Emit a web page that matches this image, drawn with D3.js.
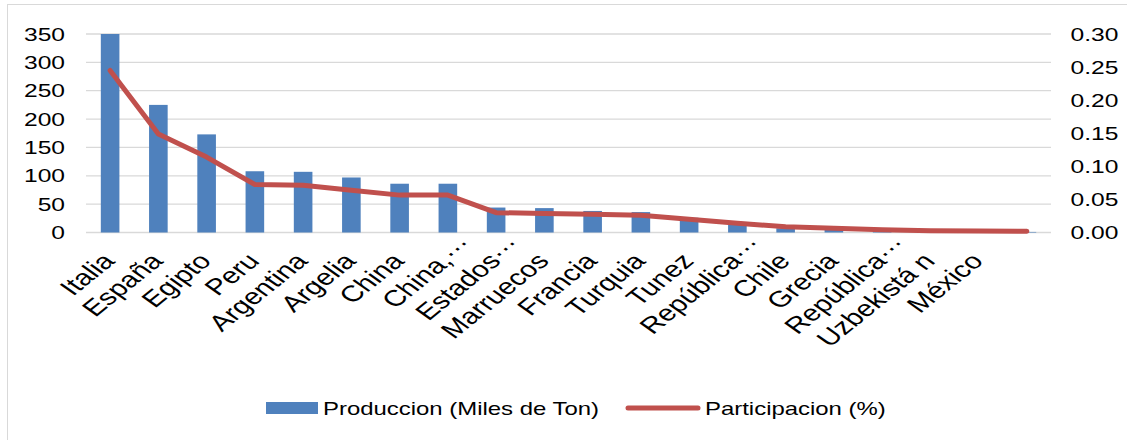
<!DOCTYPE html>
<html>
<head>
<meta charset="utf-8">
<script src="https://cdn.jsdelivr.net/npm/d3@7"></script>
<style>
  body { margin: 0; background: #fff; }
  svg { display: block; font-family: "Liberation Sans", Arial, sans-serif; }
</style>
</head>
<body>
<svg id="chart" width="1127" height="440"></svg>
<script>
// data (last category has no label in the original)
const paises = ["Italia", "España", "Egipto", "Peru", "Argentina", "Argelia", "China", "China,…", "Estados…",
  "Marruecos", "Francia", "Turquia", "Tunez", "República…", "Chile", "Grecia", "República…", "Uzbekistá n", "México", ""];
const produccion = [350, 225, 173, 108, 107, 97, 86, 86, 44, 43, 38, 36, 26, 16, 7.5, 4.5, 3, 2, 1.5, 1];
const participacion = [0.245, 0.149, 0.114, 0.0725, 0.0715, 0.064, 0.0565, 0.0565, 0.030, 0.0288, 0.0275, 0.0262,
  0.0199, 0.0139, 0.0088, 0.0063, 0.0042, 0.0027, 0.0023, 0.0018];
const ticksIzq = [0, 50, 100, 150, 200, 250, 300, 350];
const ticksDer = [0, 0.05, 0.10, 0.15, 0.20, 0.25, 0.30];
const nombreBarras = "Produccion (Miles de Ton)";
const nombreLinea = "Participacion (%)";

const svg = d3.select("#chart");
const sx = 1.33; // the original picture is stretched sideways, text too

// chart border
svg.append("rect")
  .attr("x", 7.5).attr("y", 4.5)
  .attr("width", 1200).attr("height", 500)
  .attr("fill", "none").attr("stroke", "#d9d9d9");

const x = d3.scaleBand()
  .domain(d3.range(paises.length))
  .range([86, 1051])
  .paddingInner(0.6145)
  .paddingOuter(0.307);

const y = d3.scaleLinear().domain([0, 350]).range([232.5, 34]);
const y2 = d3.scaleLinear().domain([0, 0.30]).range([232.5, 34]);

// gridlines
svg.append("g")
  .selectAll("line")
  .data(ticksIzq)
  .join("line")
  .attr("x1", 86).attr("x2", 1051)
  .attr("y1", d => y(d)).attr("y2", d => y(d))
  .attr("stroke", "#d9d9d9")
  .attr("stroke-width", 1.3);

// left axis labels
svg.append("g")
  .selectAll("text")
  .data(ticksIzq)
  .join("text")
  .attr("transform", d => `translate(65,${y(d)}) scale(${sx},1)`)
  .attr("dy", "0.36em")
  .attr("text-anchor", "end")
  .attr("font-size", 18.5)
  .attr("fill", "#000")
  .text(d => d);

// right axis labels
svg.append("g")
  .selectAll("text")
  .data(ticksDer)
  .join("text")
  .attr("transform", d => `translate(1070.5,${y2(d)}) scale(${sx},1)`)
  .attr("dy", "0.36em")
  .attr("text-anchor", "start")
  .attr("font-size", 18.5)
  .attr("fill", "#000")
  .text(d => d.toFixed(2));

// bars
svg.append("g")
  .selectAll("rect")
  .data(produccion)
  .join("rect")
  .attr("x", (d, i) => x(i))
  .attr("width", x.bandwidth())
  .attr("y", d => y(d))
  .attr("height", d => y(0) - y(d))
  .attr("fill", "#4f81bd");

// line
const linea = d3.line()
  .x((d, i) => x(i) + x.bandwidth() / 2)
  .y(d => y2(d));

svg.append("path")
  .datum(participacion)
  .attr("d", linea)
  .attr("fill", "none")
  .attr("stroke", "#c0504d")
  .attr("stroke-width", 5)
  .attr("stroke-linejoin", "round")
  .attr("stroke-linecap", "round");

// category labels, rotated; a trailing "…" hangs past the tick like in the original
const etiquetas = svg.append("g")
  .selectAll("g")
  .data(paises)
  .join("g")
  .attr("transform", (d, i) => `translate(${x(i) + x.bandwidth() / 2 + 6},262) scale(${sx},1) rotate(-47)`)
  .attr("font-size", 22.5)
  .attr("fill", "#000");

etiquetas.append("text")
  .attr("text-anchor", "end")
  .text(d => d.replace("…", ""));

etiquetas.filter(d => d.endsWith("…"))
  .append("text")
  .attr("text-anchor", "start")
  .attr("dy", "-0.25em")
  .text("…");

// legend
const leg = svg.append("g");
leg.append("rect")
  .attr("x", 266).attr("y", 402)
  .attr("width", 52).attr("height", 12)
  .attr("fill", "#4f81bd");
leg.append("text")
  .attr("transform", `translate(323,414.5) scale(${sx},1)`)
  .attr("font-size", 18)
  .text(nombreBarras);
leg.append("line")
  .attr("x1", 628).attr("x2", 698)
  .attr("y1", 408).attr("y2", 408)
  .attr("stroke", "#c0504d")
  .attr("stroke-width", 5)
  .attr("stroke-linecap", "round");
leg.append("text")
  .attr("transform", `translate(705,414.5) scale(${sx},1)`)
  .attr("font-size", 18)
  .text(nombreLinea);
</script>
</body>
</html>
